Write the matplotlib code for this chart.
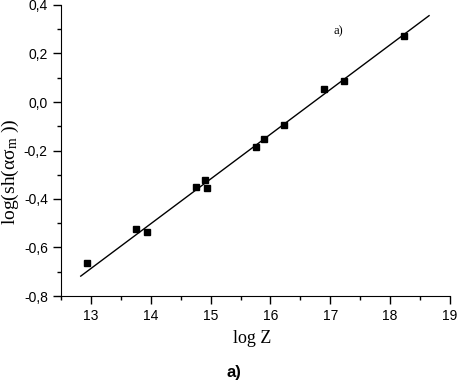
import matplotlib
matplotlib.use('Agg')
import matplotlib.pyplot as plt
from matplotlib.ticker import MultipleLocator, FuncFormatter

plt.rcParams['mathtext.fontset'] = 'custom'
plt.rcParams['mathtext.rm'] = 'Liberation Serif'
plt.rcParams['mathtext.it'] = 'Liberation Serif:italic'

# measured points (log Z, log(sh(a*sigma_m)))
log_z = [12.93, 13.75, 13.93, 14.75, 14.90, 14.94, 15.76, 15.89, 16.23, 16.90, 17.23, 18.23]
log_sh = [-0.663, -0.525, -0.537, -0.349, -0.322, -0.353, -0.187, -0.153, -0.096, 0.055, 0.088, 0.273]

# fitted straight line, end points
fit_x = [12.83, 18.65]
fit_y = [-0.718, 0.356]

fig = plt.figure(figsize=(4.57, 3.82), dpi=100)
ax = fig.add_axes([61 / 457, 1 - 296 / 382, 389 / 457, 291 / 382])

ax.plot(fit_x, fit_y, color='black', linewidth=1.0)
ax.plot(log_z, log_sh, linestyle='none', marker='s', markersize=5,
        color='black')

ax.set_xlim(12.5, 19)
ax.set_ylim(-0.8, 0.4)

ax.spines['top'].set_visible(False)
ax.spines['right'].set_visible(False)

ax.xaxis.set_major_locator(MultipleLocator(1))
ax.xaxis.set_minor_locator(MultipleLocator(0.5))
ax.yaxis.set_major_locator(MultipleLocator(0.2))
ax.yaxis.set_minor_locator(MultipleLocator(0.1))
ax.yaxis.set_major_formatter(FuncFormatter(lambda v, p: f'{v:.1f}'.replace('.', ',').replace('-0,0', '0,0')))

ax.tick_params(which='major', direction='out', length=6, width=1, labelsize=10)
ax.tick_params(which='minor', direction='out', length=3, width=1)
for lab in ax.get_xticklabels() + ax.get_yticklabels():
    lab.set_family('Liberation Sans')

ax.set_xlabel('log Z', family='Liberation Serif', fontsize=13)
ax.set_ylabel(r'log(sh(ασ$_\mathrm{m}$ ))', family='Liberation Serif', fontsize=14)
ax.xaxis.set_label_coords((252 - 61) / 389, -(330 - 296) / 291)
ax.yaxis.set_label_coords(-(61 - 21) / 389, (296 - 172) / 291)

ax.text(17.13, 0.29, 'a)', family='Liberation Serif', fontsize=9,
        ha='center', va='center')

fig.text(234 / 457, 1 - 373 / 382, 'a)', family='Liberation Sans',
         fontsize=12, fontweight='bold', ha='center', va='center')

fig.savefig('out.png', dpi=100)
